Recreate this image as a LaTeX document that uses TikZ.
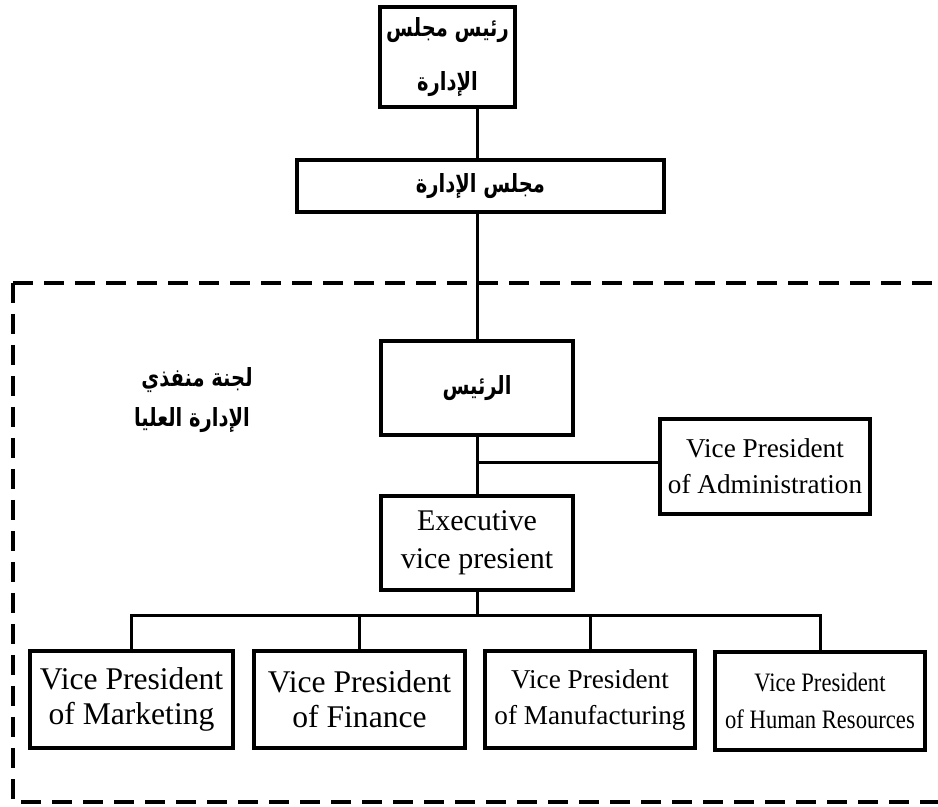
\documentclass[tikz,border=0pt]{standalone}
\usepackage{fontspec}
\setmainfont{Liberation Serif}
\newfontfamily\arabicfont[Script=Arabic,FakeStretch=0.78]{DejaVu Sans}
\newfontfamily\condserif[FakeStretch=0.85]{Liberation Serif}
\TeXXeTstate=1
\begin{document}
\begin{tikzpicture}[x=0.5pt,y=-0.5pt,
  box/.style={draw,line width=1.8pt,inner sep=0pt,align=center},
  conn/.style={line width=1.5pt},
  frame/.style={line width=2pt,dash pattern=on 10pt off 5.5pt},
  ar/.style={font=\arabicfont\bfseries\fontsize{12.5}{27}\selectfont},
  en/.style={font=\fontsize{15.8}{17.5}\selectfont},
  ensm/.style={font=\fontsize{13.6}{18}\selectfont}]
\useasboundingbox (0,0) rectangle (938,807);
% boxes
\node[box,ar,minimum width=67.5pt,minimum height=50pt] (top) at (447.5,57)
  {\beginR رئيس مجلس\endR\\\beginR الإدارة\endR};
\node[box,ar,minimum width=183.5pt,minimum height=26pt] (board) at (480.5,186)
  {\beginR مجلس الإدارة\endR};
\node[box,ar,minimum width=96pt,minimum height=47pt] (pres) at (477,388)
  {\beginR الرئيس\endR};
\node[box,font=\fontsize{15}{19}\selectfont,minimum width=96pt,minimum height=47pt] (exec) at (477,543)
  {Executive\\vice presient};
\node[box,ensm,minimum width=105pt,minimum height=47.5pt] (admin) at (765,466.5)
  {Vice President\\of Administration};
\node[box,en,minimum width=101.5pt,minimum height=48.5pt] (mkt) at (131.5,699.5)
  {Vice President\\of Marketing};
\node[box,en,minimum width=105.5pt,minimum height=48.5pt] (fin) at (359.5,699.5)
  {Vice President\\of Finance};
\node[box,ensm,minimum width=105pt,minimum height=48.5pt] (man) at (590,699.5)
  {Vice President\\of Manufacturing};
\node[box,font=\condserif\fontsize{13.3}{18.5}\selectfont,minimum width=105pt,minimum height=49pt] (hr) at (820,701)
  {Vice President\\of Human Resources};
% labels
\node[ar] (lbl1) at (197,380) {\beginR لجنة منفذي\endR};
\node[ar] (lbl2) at (192,420) {\beginR الإدارة العليا\endR};
% connectors
\coordinate (spine) at (477,0);
\coordinate (j) at (477,463);
\coordinate (bus) at (477,616);
\draw[conn] (top.south -| spine) -- (board.north -| spine);
\draw[conn] (board.south -| spine) -- (pres.north);
\draw[conn] (pres.south) -- (exec.north);
\draw[conn] (j) -- (admin.west |- j);
\draw[conn] (exec.south) -- (bus);
\draw[conn] (mkt.north) -- (mkt.north |- bus) -- (hr.north |- bus) -- (hr.north);
\draw[conn] (fin.north) -- (fin.north |- bus);
\draw[conn] (man.north) -- (man.north |- bus);
% dashed frame
\coordinate (fa) at (13,283);
\coordinate (fb) at (13,802);
\coordinate (fc) at (950,283);
\coordinate (fd) at (950,802);
\draw[frame] (fa) -- (fc);
\draw[frame] (fa) -- (fb) -- (fd);
\end{tikzpicture}
\end{document}
